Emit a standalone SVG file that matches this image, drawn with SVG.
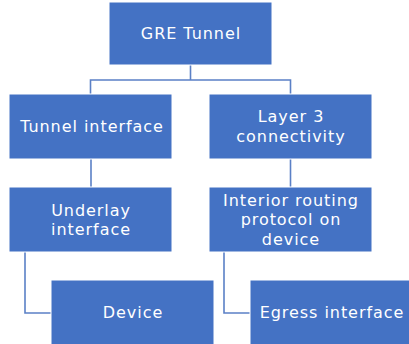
<svg xmlns="http://www.w3.org/2000/svg" width="409" height="344" viewBox="0 0 409 344">
<style>
.box{fill:#4472C4;stroke:#ffffff;stroke-width:1}
.t{fill:#ffffff;font-family:"DejaVu Sans","Open Sans",sans-serif;font-size:16px;letter-spacing:0.95px;text-anchor:middle}
.c{fill:none;stroke:#5B80C6;stroke-width:1.6}
</style>
<rect width="409" height="344" fill="#ffffff"/>
<g id="connectors">
<path class="c" d="M190.5,65 V80 M90.5,95 V80 H290.5 V95"/>
<path class="c" d="M91,159 V187"/>
<path class="c" d="M290.5,159 V187"/>
<path class="c" d="M25,252 V313 H51"/>
<path class="c" d="M224,252 V313 H250"/>
</g>
<g id="gre-tunnel">
<rect class="box" x="109" y="2" width="163" height="63"/>
<text class="t" x="191" y="39">GRE Tunnel</text>
</g>
<g id="tunnel-interface">
<rect class="box" x="9" y="94" width="163" height="65"/>
<text class="t" x="92" y="132">Tunnel interface</text>
</g>
<g id="layer3">
<rect class="box" x="209" y="94" width="163" height="65"/>
<text class="t" x="291" y="122">Layer 3</text>
<text class="t" x="291" y="142">connectivity</text>
</g>
<g id="underlay">
<rect class="box" x="9" y="187" width="163" height="65"/>
<text class="t" x="91" y="216">Underlay</text>
<text class="t" x="91" y="235">interface</text>
</g>
<g id="interior">
<rect class="box" x="209" y="187" width="163" height="65"/>
<text class="t" x="291" y="206">Interior routing</text>
<text class="t" x="291" y="225">protocol on</text>
<text class="t" x="291" y="245">device</text>
</g>
<g id="device">
<rect class="box" x="51" y="280" width="163" height="66"/>
<text class="t" x="133" y="318">Device</text>
</g>
<g id="egress">
<rect class="box" x="250" y="280" width="163" height="66"/>
<text class="t" x="332" y="318">Egress interface</text>
</g>
</svg>
